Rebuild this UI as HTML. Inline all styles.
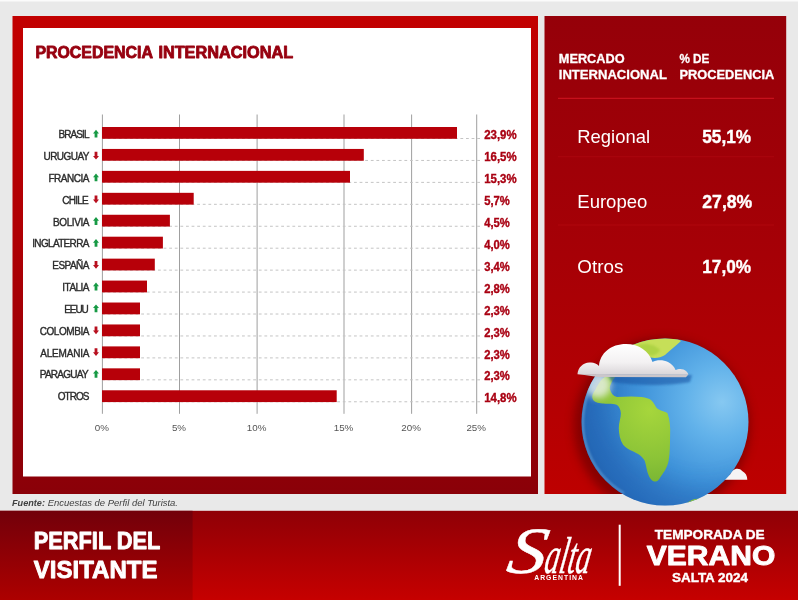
<!DOCTYPE html>
<html lang="es"><head><meta charset="utf-8"><title>Perfil del Visitante - Procedencia Internacional</title>
<style>html,body{margin:0;padding:0;background:#e9e9e9;}body{width:798px;height:600px;overflow:hidden;position:relative;}svg{position:absolute;left:0;top:0;display:block;}text{font-family:"Liberation Sans", sans-serif;}</style></head><body>
<svg width="798" height="600" viewBox="0 0 798 600">
<defs>
<linearGradient id="gFrame" x1="0" y1="0" x2="0" y2="1"><stop offset="0" stop-color="#c20000"/><stop offset="0.45" stop-color="#b00004"/><stop offset="1" stop-color="#8a0008"/></linearGradient>
<linearGradient id="gPanel" x1="0" y1="0" x2="0" y2="1"><stop offset="0" stop-color="#950009"/><stop offset="0.5" stop-color="#a60006"/><stop offset="1" stop-color="#bd0000"/></linearGradient>
<linearGradient id="gFootL" x1="0" y1="0" x2="0" y2="1"><stop offset="0" stop-color="#72000a"/><stop offset="1" stop-color="#ad0000"/></linearGradient>
<linearGradient id="gFootR" x1="0" y1="0" x2="0" y2="1"><stop offset="0" stop-color="#8f0006"/><stop offset="1" stop-color="#c60000"/></linearGradient>
<radialGradient id="gGlobe" gradientUnits="userSpaceOnUse" cx="722" cy="402" r="165"><stop offset="0" stop-color="#86c8f1"/><stop offset="0.22" stop-color="#62b2ea"/><stop offset="0.5" stop-color="#3f93da"/><stop offset="0.78" stop-color="#2b73c0"/><stop offset="1" stop-color="#2260a8"/></radialGradient>
<radialGradient id="gLand" gradientUnits="userSpaceOnUse" cx="650" cy="410" r="80"><stop offset="0" stop-color="#a6d63c"/><stop offset="0.6" stop-color="#8cc437"/><stop offset="1" stop-color="#74b233"/></radialGradient>
<linearGradient id="gCloud" x1="0" y1="0" x2="0" y2="1"><stop offset="0" stop-color="#ffffff"/><stop offset="0.6" stop-color="#f3f1f2"/><stop offset="1" stop-color="#d9d5d8"/></linearGradient>
<clipPath id="cPanel"><rect x="544.5" y="16" width="241.7" height="478"/></clipPath>
<filter id="blur2" x="-20%" y="-20%" width="140%" height="140%"><feGaussianBlur stdDeviation="1.2"/></filter>
<filter id="blur4" x="-50%" y="-50%" width="200%" height="200%"><feGaussianBlur stdDeviation="3.5"/></filter>
<filter id="blur6" x="-20%" y="-20%" width="140%" height="140%"><feGaussianBlur stdDeviation="5"/></filter>
<filter id="blur10" x="-30%" y="-30%" width="160%" height="160%"><feGaussianBlur stdDeviation="12"/></filter>
<clipPath id="cGlobe"><circle cx="665" cy="422" r="83.5"/></clipPath>
</defs>
<rect x="0" y="0" width="798" height="600" fill="#e9e9e9"/>
<rect x="0" y="0" width="798" height="1.5" fill="#fbfbfb"/>
<rect x="12.5" y="16" width="525.5" height="478" fill="url(#gFrame)"/>
<rect x="23" y="28" width="508" height="448.5" fill="#ffffff"/>
<text y="58.3" font-size="16" font-weight="700" fill="#97000f" stroke="#97000f" stroke-width="0.85" stroke-linejoin="round"><tspan x="35.4" textLength="117" lengthAdjust="spacingAndGlyphs">PROCEDENCIA</tspan> <tspan x="158.4" textLength="134.8" lengthAdjust="spacingAndGlyphs">INTERNACIONAL</tspan></text>
<line x1="102.4" y1="114.5" x2="102.4" y2="413.8" stroke="#8e8e8e" stroke-width="0.85"/>
<line x1="179.5" y1="114.5" x2="179.5" y2="413.8" stroke="#8e8e8e" stroke-width="0.85"/>
<line x1="257.1" y1="114.5" x2="257.1" y2="413.8" stroke="#8e8e8e" stroke-width="0.85"/>
<line x1="344.0" y1="114.5" x2="344.0" y2="413.8" stroke="#8e8e8e" stroke-width="0.85"/>
<line x1="411.6" y1="114.5" x2="411.6" y2="413.8" stroke="#8e8e8e" stroke-width="0.85"/>
<line x1="476.7" y1="114.5" x2="476.7" y2="413.8" stroke="#8e8e8e" stroke-width="0.85"/>
<line x1="102" y1="138.50" x2="480" y2="138.50" stroke="#c4c4c4" stroke-width="1" stroke-dasharray="2.8 2.8"/>
<rect x="102" y="127.00" width="355.0" height="11.8" fill="#b70009"/>
<text transform="translate(58.5 138.30) scale(0.91 1)" font-size="11" fill="#2b2b2b" stroke="#2b2b2b" stroke-width="0.4" letter-spacing="-1.012">BRASIL</text>
<path d="M96 129.80 l3 3.7 h-1.6 v4.1 h-2.8 v-4.1 h-1.6 z" fill="#179a45"/>
<text x="484.2" y="139.10" font-size="12" font-weight="700" fill="#a90012" stroke="#a90012" stroke-width="0.35" textLength="32.4" lengthAdjust="spacingAndGlyphs">23,9%</text>
<line x1="102" y1="160.44" x2="480" y2="160.44" stroke="#c4c4c4" stroke-width="1" stroke-dasharray="2.8 2.8"/>
<rect x="102" y="148.94" width="261.8" height="11.8" fill="#b70009"/>
<text transform="translate(43.5 160.12) scale(0.91 1)" font-size="11" fill="#2b2b2b" stroke="#2b2b2b" stroke-width="0.4" letter-spacing="-0.607">URUGUAY</text>
<path d="M96 159.62 l3 -3.7 h-1.6 v-4.1 h-2.8 v4.1 h-1.6 z" fill="#b8101f"/>
<text x="484.2" y="161.04" font-size="12" font-weight="700" fill="#a90012" stroke="#a90012" stroke-width="0.35" textLength="32.4" lengthAdjust="spacingAndGlyphs">16,5%</text>
<line x1="102" y1="182.38" x2="480" y2="182.38" stroke="#c4c4c4" stroke-width="1" stroke-dasharray="2.8 2.8"/>
<rect x="102" y="170.88" width="248.0" height="11.8" fill="#b70009"/>
<text transform="translate(48.5 181.95) scale(0.91 1)" font-size="11" fill="#2b2b2b" stroke="#2b2b2b" stroke-width="0.4" letter-spacing="-0.538">FRANCIA</text>
<path d="M96 173.45 l3 3.7 h-1.6 v4.1 h-2.8 v-4.1 h-1.6 z" fill="#179a45"/>
<text x="484.2" y="182.98" font-size="12" font-weight="700" fill="#a90012" stroke="#a90012" stroke-width="0.35" textLength="32.4" lengthAdjust="spacingAndGlyphs">15,3%</text>
<line x1="102" y1="204.32" x2="480" y2="204.32" stroke="#c4c4c4" stroke-width="1" stroke-dasharray="2.8 2.8"/>
<rect x="102" y="192.82" width="91.7" height="11.8" fill="#b70009"/>
<text transform="translate(62.3 203.78) scale(0.91 1)" font-size="11" fill="#2b2b2b" stroke="#2b2b2b" stroke-width="0.4" letter-spacing="-0.819">CHILE</text>
<path d="M96 203.28 l3 -3.7 h-1.6 v-4.1 h-2.8 v4.1 h-1.6 z" fill="#b8101f"/>
<text x="484.2" y="204.92" font-size="12" font-weight="700" fill="#a90012" stroke="#a90012" stroke-width="0.35" textLength="25.6" lengthAdjust="spacingAndGlyphs">5,7%</text>
<line x1="102" y1="226.26" x2="480" y2="226.26" stroke="#c4c4c4" stroke-width="1" stroke-dasharray="2.8 2.8"/>
<rect x="102" y="214.76" width="67.9" height="11.8" fill="#b70009"/>
<text transform="translate(53.0 225.60) scale(0.91 1)" font-size="11" fill="#2b2b2b" stroke="#2b2b2b" stroke-width="0.4" letter-spacing="-0.447">BOLIVIA</text>
<path d="M96 217.10 l3 3.7 h-1.6 v4.1 h-2.8 v-4.1 h-1.6 z" fill="#179a45"/>
<text x="484.2" y="226.86" font-size="12" font-weight="700" fill="#a90012" stroke="#a90012" stroke-width="0.35" textLength="25.6" lengthAdjust="spacingAndGlyphs">4,5%</text>
<line x1="102" y1="248.20" x2="480" y2="248.20" stroke="#c4c4c4" stroke-width="1" stroke-dasharray="2.8 2.8"/>
<rect x="102" y="236.70" width="60.9" height="11.8" fill="#b70009"/>
<text transform="translate(32.2 247.43) scale(0.91 1)" font-size="11" fill="#2b2b2b" stroke="#2b2b2b" stroke-width="0.4" letter-spacing="-0.723">INGLATERRA</text>
<path d="M96 238.93 l3 3.7 h-1.6 v4.1 h-2.8 v-4.1 h-1.6 z" fill="#179a45"/>
<text x="484.2" y="248.80" font-size="12" font-weight="700" fill="#a90012" stroke="#a90012" stroke-width="0.35" textLength="25.6" lengthAdjust="spacingAndGlyphs">4,0%</text>
<line x1="102" y1="270.14" x2="480" y2="270.14" stroke="#c4c4c4" stroke-width="1" stroke-dasharray="2.8 2.8"/>
<rect x="102" y="258.64" width="52.8" height="11.8" fill="#b70009"/>
<text transform="translate(52.3 269.25) scale(0.91 1)" font-size="11" fill="#2b2b2b" stroke="#2b2b2b" stroke-width="0.4" letter-spacing="-0.586">ESPAÑA</text>
<path d="M96 268.75 l3 -3.7 h-1.6 v-4.1 h-2.8 v4.1 h-1.6 z" fill="#b8101f"/>
<text x="484.2" y="270.74" font-size="12" font-weight="700" fill="#a90012" stroke="#a90012" stroke-width="0.35" textLength="25.6" lengthAdjust="spacingAndGlyphs">3,4%</text>
<line x1="102" y1="292.08" x2="480" y2="292.08" stroke="#c4c4c4" stroke-width="1" stroke-dasharray="2.8 2.8"/>
<rect x="102" y="280.58" width="45.0" height="11.8" fill="#b70009"/>
<text transform="translate(62.3 291.08) scale(0.91 1)" font-size="11" fill="#2b2b2b" stroke="#2b2b2b" stroke-width="0.4" letter-spacing="-0.583">ITALIA</text>
<path d="M96 282.58 l3 3.7 h-1.6 v4.1 h-2.8 v-4.1 h-1.6 z" fill="#179a45"/>
<text x="484.2" y="292.68" font-size="12" font-weight="700" fill="#a90012" stroke="#a90012" stroke-width="0.35" textLength="25.6" lengthAdjust="spacingAndGlyphs">2,8%</text>
<line x1="102" y1="314.02" x2="480" y2="314.02" stroke="#c4c4c4" stroke-width="1" stroke-dasharray="2.8 2.8"/>
<rect x="102" y="302.52" width="38.0" height="11.8" fill="#b70009"/>
<text transform="translate(64.3 312.90) scale(0.91 1)" font-size="11" fill="#2b2b2b" stroke="#2b2b2b" stroke-width="0.4" letter-spacing="-1.213">EEUU</text>
<path d="M96 304.40 l3 3.7 h-1.6 v4.1 h-2.8 v-4.1 h-1.6 z" fill="#179a45"/>
<text x="484.2" y="314.62" font-size="12" font-weight="700" fill="#a90012" stroke="#a90012" stroke-width="0.35" textLength="25.6" lengthAdjust="spacingAndGlyphs">2,3%</text>
<line x1="102" y1="335.96" x2="480" y2="335.96" stroke="#c4c4c4" stroke-width="1" stroke-dasharray="2.8 2.8"/>
<rect x="102" y="324.46" width="38.0" height="11.8" fill="#b70009"/>
<text transform="translate(39.7 334.73) scale(0.91 1)" font-size="11" fill="#2b2b2b" stroke="#2b2b2b" stroke-width="0.4" letter-spacing="-0.477">COLOMBIA</text>
<path d="M96 334.23 l3 -3.7 h-1.6 v-4.1 h-2.8 v4.1 h-1.6 z" fill="#b8101f"/>
<text x="484.2" y="336.56" font-size="12" font-weight="700" fill="#a90012" stroke="#a90012" stroke-width="0.35" textLength="25.6" lengthAdjust="spacingAndGlyphs">2,3%</text>
<line x1="102" y1="357.90" x2="480" y2="357.90" stroke="#c4c4c4" stroke-width="1" stroke-dasharray="2.8 2.8"/>
<rect x="102" y="346.40" width="38.0" height="11.8" fill="#b70009"/>
<text transform="translate(40.2 356.55) scale(0.91 1)" font-size="11" fill="#2b2b2b" stroke="#2b2b2b" stroke-width="0.4" letter-spacing="-0.207">ALEMANIA</text>
<path d="M96 356.05 l3 -3.7 h-1.6 v-4.1 h-2.8 v4.1 h-1.6 z" fill="#b8101f"/>
<text x="484.2" y="358.50" font-size="12" font-weight="700" fill="#a90012" stroke="#a90012" stroke-width="0.35" textLength="25.6" lengthAdjust="spacingAndGlyphs">2,3%</text>
<line x1="102" y1="379.84" x2="480" y2="379.84" stroke="#c4c4c4" stroke-width="1" stroke-dasharray="2.8 2.8"/>
<rect x="102" y="368.34" width="38.0" height="11.8" fill="#b70009"/>
<text transform="translate(39.7 378.38) scale(0.91 1)" font-size="11" fill="#2b2b2b" stroke="#2b2b2b" stroke-width="0.4" letter-spacing="-0.791">PARAGUAY</text>
<path d="M96 369.88 l3 3.7 h-1.6 v4.1 h-2.8 v-4.1 h-1.6 z" fill="#179a45"/>
<text x="484.2" y="380.44" font-size="12" font-weight="700" fill="#a90012" stroke="#a90012" stroke-width="0.35" textLength="25.6" lengthAdjust="spacingAndGlyphs">2,3%</text>
<line x1="102" y1="401.78" x2="480" y2="401.78" stroke="#c4c4c4" stroke-width="1" stroke-dasharray="2.8 2.8"/>
<rect x="102" y="390.28" width="234.7" height="11.8" fill="#b70009"/>
<text transform="translate(57.7 400.20) scale(0.91 1)" font-size="11" fill="#2b2b2b" stroke="#2b2b2b" stroke-width="0.4" letter-spacing="-1.042">OTROS</text>
<text x="484.2" y="402.38" font-size="12" font-weight="700" fill="#a90012" stroke="#a90012" stroke-width="0.35" textLength="32.4" lengthAdjust="spacingAndGlyphs">14,8%</text>
<text x="101.9" y="431.3" font-size="9.8" fill="#555555" text-anchor="middle">0%</text>
<text x="179.0" y="431.3" font-size="9.8" fill="#555555" text-anchor="middle">5%</text>
<text x="256.6" y="431.3" font-size="9.8" fill="#555555" text-anchor="middle">10%</text>
<text x="343.5" y="431.3" font-size="9.8" fill="#555555" text-anchor="middle">15%</text>
<text x="411.1" y="431.3" font-size="9.8" fill="#555555" text-anchor="middle">20%</text>
<text x="476.2" y="431.3" font-size="9.8" fill="#555555" text-anchor="middle">25%</text>
<text y="505.8" font-size="9.3" font-style="italic" fill="#3f3f3f"><tspan x="12" font-weight="700" textLength="33" lengthAdjust="spacingAndGlyphs">Fuente:</tspan> <tspan x="47.8" textLength="130.2" lengthAdjust="spacingAndGlyphs">Encuestas de Perfil del Turista.</tspan></text>
<rect x="544.5" y="16" width="241.7" height="478" fill="url(#gPanel)"/>
<text x="558.8" y="63.2" font-size="12.6" font-weight="700" fill="#ffffff" stroke="#ffffff" stroke-width="0.3" textLength="65.8" lengthAdjust="spacingAndGlyphs">MERCADO</text>
<text x="558.8" y="79.1" font-size="12.6" font-weight="700" fill="#ffffff" stroke="#ffffff" stroke-width="0.3" textLength="108.1" lengthAdjust="spacingAndGlyphs">INTERNACIONAL</text>
<text x="679.4" y="63.2" font-size="12.6" font-weight="700" fill="#ffffff" stroke="#ffffff" stroke-width="0.3" textLength="30" lengthAdjust="spacingAndGlyphs">% DE</text>
<text x="679.4" y="79.1" font-size="12.6" font-weight="700" fill="#ffffff" stroke="#ffffff" stroke-width="0.3" textLength="94.9" lengthAdjust="spacingAndGlyphs">PROCEDENCIA</text>
<line x1="558" y1="98.3" x2="774" y2="98.3" stroke="#d11622" stroke-width="1.2" opacity="0.8"/>
<line x1="558" y1="156.7" x2="774" y2="156.7" stroke="#b30a12" stroke-width="1" opacity="0.6"/>
<line x1="558" y1="225" x2="774" y2="225" stroke="#b80a12" stroke-width="1" opacity="0.6"/>
<text x="577.3" y="143.3" font-size="18.5" fill="#ffffff" textLength="72.7" lengthAdjust="spacingAndGlyphs">Regional</text>
<text x="702.3" y="143.3" font-size="18" font-weight="700" fill="#ffffff" stroke="#ffffff" stroke-width="0.4" textLength="48.7" lengthAdjust="spacingAndGlyphs">55,1%</text>
<text x="577.3" y="208.3" font-size="18.5" fill="#ffffff" textLength="70" lengthAdjust="spacingAndGlyphs">Europeo</text>
<text x="702.3" y="208.3" font-size="18" font-weight="700" fill="#ffffff" stroke="#ffffff" stroke-width="0.4" textLength="50" lengthAdjust="spacingAndGlyphs">27,8%</text>
<text x="577.3" y="272.7" font-size="18.5" fill="#ffffff" textLength="46" lengthAdjust="spacingAndGlyphs">Otros</text>
<text x="702.3" y="272.7" font-size="18" font-weight="700" fill="#ffffff" stroke="#ffffff" stroke-width="0.4" textLength="48.7" lengthAdjust="spacingAndGlyphs">17,0%</text>
<g id="globe">
<g clip-path="url(#cPanel)"><circle cx="662" cy="426" r="88" fill="#5a0006" opacity="0.55" filter="url(#blur6)"/></g>
<path d="M724.5 479.8 c0.5 -3.5 3 -5.5 5.5 -5 c1.5 -5.5 8.5 -8.5 12.5 -3.5 c3 1.5 4.8 4.5 4.8 8.5 z" fill="#f6f4f5"/>
<circle cx="665" cy="422" r="83.5" fill="url(#gGlobe)"/>
<g clip-path="url(#cGlobe)">
<circle cx="702" cy="390" r="128" fill="none" stroke="#1f5cae" stroke-width="60" opacity="0.3" filter="url(#blur10)"/>
<path d="M632 344 C640 334 668 332 681 341 C676 346 670 350 665 355 C659 359 650 359 646 355 C643 350 637 347 632 344 Z" fill="#c6df58"/>
<path d="M636 346 C644 342 655 344 660 350 C657 356 650 357 646 354 C643 350 640 348 636 346 Z" fill="#a9d040" opacity="0.8" filter="url(#blur2)"/>
<path d="M616.6 375 C612 381 609 386 610 389.5 C611 393 613 396 617 397 C625 396.5 634 396 641.5 397 C646 397.5 649 398.5 651.3 400.3 C654 403 655 406 656.7 408 C660 411 665 411 667.5 413.3 C670 420 670.5 428 670.1 435 C670 445 670 453 668.6 461 C667 468 664 472 661 476.2 C659 479.5 657.5 481.6 655.6 481.6 C652.5 481.6 650.5 479 649 476.2 C646.5 471 646.5 466 644.8 461 C642 455.5 637 453.5 632.8 451.3 C629 449.5 625.5 448 623.1 444.8 C620 440 619 434 618.8 428.5 C618.6 423 621 418 620.9 413.3 C620.5 409 619 406 616.6 404.7 C612 403 607 404 602.5 403.6 C598 403 594 402 592.8 399.3 C591.5 396 593 393 594.9 390.6 C597 386 599.5 382 602.5 378.7 C606 375.5 611 374 616.6 375 Z" fill="url(#gLand)"/>
<ellipse cx="598" cy="385" rx="13" ry="13" fill="#eef3ec" opacity="0.8" filter="url(#blur4)"/>
<circle cx="665" cy="422" r="82.3" fill="none" stroke="#9fd0f2" stroke-width="2" opacity="0.45" stroke-dasharray="150 600" transform="rotate(120 665 422)" filter="url(#blur2)"/>
<path d="M608 375 L692 375 L690 382 C670 386 636 386 612 382 Z" fill="#1c58a6" opacity="0.6" filter="url(#blur2)"/>
<path d="M686 504 C691 498.5 699 497.5 704 500 L701 507 L686 507 Z" fill="#8cc437"/>
</g>
<path d="M577.5 374 C578 367 584 361.5 591 362.5 C594 362.5 597 364 599 366 C600 353 611 344 626 344 C639 344 649 351 652.5 362 C656 360 663 359.5 668 362 C672 364 674.5 367 675.5 370 C678.5 368.3 684 368.5 686 371 C687.5 372.3 688.3 373.5 688.3 374.8 L577.5 374.3 Z" fill="url(#gCloud)"/>
<path d="M577.5 374 L688.3 374.6 L686 377.3 L598 377 Z" fill="#cbc6ca"/>
</g>
<rect x="0" y="510.8" width="798" height="89.2" fill="url(#gFootR)"/>
<rect x="0" y="510.8" width="192.6" height="89.2" fill="url(#gFootL)"/>
<text x="33.8" y="548.9" font-size="24" font-weight="700" fill="#ffffff" stroke="#ffffff" stroke-width="0.9" stroke-linejoin="round" textLength="126.6" lengthAdjust="spacingAndGlyphs">PERFIL DEL</text>
<text x="33.8" y="577.7" font-size="24" font-weight="700" fill="#ffffff" stroke="#ffffff" stroke-width="0.9" stroke-linejoin="round" textLength="123.6" lengthAdjust="spacingAndGlyphs">VISITANTE</text>
<text x="505" y="573.5" font-style="italic" fill="#ffffff" stroke="#ffffff" stroke-width="0.45" style="font-family:'Liberation Serif',serif" transform="translate(505 573) skewX(-10) translate(-505 -573)"><tspan font-size="66" textLength="39" lengthAdjust="spacingAndGlyphs">S</tspan><tspan font-size="52" dx="-1" textLength="46" lengthAdjust="spacingAndGlyphs">alta</tspan></text>
<text x="534.2" y="580.2" font-size="6.8" font-weight="700" fill="#ffffff" textLength="48.8" lengthAdjust="spacing">ARGENTINA</text>
<rect x="618.7" y="524.7" width="2" height="61.1" fill="#ffffff"/>
<text x="654.8" y="538.6" font-size="13.4" font-weight="700" fill="#ffffff" stroke="#ffffff" stroke-width="0.4" textLength="109.9" lengthAdjust="spacingAndGlyphs">TEMPORADA DE</text>
<text x="646.8" y="564.7" font-size="27.5" font-weight="700" fill="#ffffff" stroke="#ffffff" stroke-width="0.9" stroke-linejoin="round" textLength="128.5" lengthAdjust="spacingAndGlyphs">VERANO</text>
<text x="672.1" y="581.7" font-size="12" font-weight="700" fill="#ffffff" stroke="#ffffff" stroke-width="0.35" textLength="75.8" lengthAdjust="spacingAndGlyphs">SALTA 2024</text>
</svg></body></html>
